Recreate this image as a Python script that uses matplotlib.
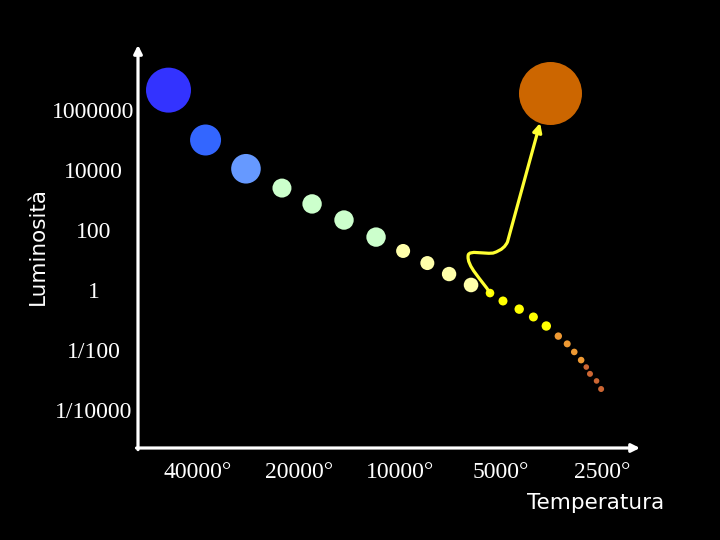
import matplotlib.pyplot as plt
from matplotlib.path import Path
from matplotlib.patches import FancyArrowPatch

# main sequence, from hot and bright (top left) to cool and faint
temps = [49000, 38000, 28800, 22500, 18300, 14700, 11800, 9800, 8300, 7150, 6150,
         5400, 4940, 4420, 4010, 3670, 3380, 3180, 3030, 2890, 2790, 2720, 2600, 2520]
lums = [4.6e6, 1e5, 1.1e4, 2500, 740, 215, 58, 20, 7.9, 3.4, 1.47,
        0.79, 0.43, 0.23, 0.126, 0.063, 0.029, 0.016, 0.0086, 0.0046, 0.0027,
        0.0016, 0.00093, 0.0005]

# red giant
giant_temp = 3590
giant_lum = 3.7e6

# path of the sun-like star leaving the main sequence (bezier vertices)
track_temps = [5400, 5700, 6360, 6270, 6200, 5700, 5290, 4960, 4860, 4790, 3830]
track_lums = [0.79, 2.15, 6.3, 14.7, 21.5, 15.8, 17, 21.5, 29, 40, 3.7e5]
track_codes = [Path.MOVETO] + [Path.CURVE4] * 9 + [Path.LINETO]

temp_ticks = [40000, 20000, 10000, 5000, 2500]
temp_labels = ['40000°', '20000°', '10000°', '5000°', '2500°']
lum_ticks = [1e6, 1e4, 1e2, 1, 1e-2, 1e-4]
lum_labels = ['1000000', '10000', '100', '1', '1/100', '1/10000']

# marker radius in pixels and colour for each star
radii = [22.5, 15.5, 14.8, 9.5, 9.7, 9.7, 9.7, 7, 7, 7.2, 7.3,
         4.3, 4.5, 4.7, 4.5, 4.7, 3.7, 3.5, 3.3, 3.3, 2.8, 3, 2.8, 3]
colors = (['#3333ff', '#3366ff', '#6699ff'] + ['#ccffcc'] * 4 + ['#ffffaa'] * 4
          + ['#ffff00'] * 5 + ['#ee9933'] * 4 + ['#cc6633'] * 4)
giant_radius = 31.5


def px_size(r):
    # scatter size (points^2) for a radius given in pixels at dpi 100
    return (2 * r * 0.72) ** 2


fig = plt.figure(figsize=(7.2, 5.4), dpi=100, facecolor='black')
ax = fig.add_axes([138 / 720, 92 / 540, 502 / 720, 403 / 540])
ax.set_facecolor('black')
ax.set_xscale('log')
ax.set_yscale('log')
ax.set_xlim(60400, 1930)
ax.set_ylim(5.4e-6, 1.47e8)
for s in ax.spines.values():
    s.set_visible(False)

ax.set_xticks(temp_ticks, temp_labels)
ax.set_yticks(lum_ticks, lum_labels)
ax.minorticks_off()
ax.tick_params(length=0, colors='white', labelsize=17)
ax.tick_params(axis='x', pad=10)
ax.tick_params(axis='y', pad=32)
for lbl in ax.get_xticklabels() + ax.get_yticklabels():
    lbl.set_fontfamily('Liberation Serif')
for lbl in ax.get_yticklabels():
    lbl.set_ha('center')

# axes drawn as arrows
arrow = dict(arrowstyle='-|>', color='white', lw=2.3, mutation_scale=12,
             shrinkA=0, shrinkB=0)
ax.annotate('', xy=(0, 1), xytext=(0, -0.004), xycoords='axes fraction', arrowprops=arrow)
ax.annotate('', xy=(1, 0), xytext=(-0.003, 0), xycoords='axes fraction', arrowprops=arrow)

ax.scatter(temps, lums, s=[px_size(r) for r in radii], c=colors, linewidths=0, zorder=3)
ax.scatter([giant_temp], [giant_lum], s=px_size(giant_radius), c='#cc6600',
           linewidths=0, zorder=3)

track_path = Path(list(zip(track_temps, track_lums)), track_codes)
track = FancyArrowPatch(path=track_path, arrowstyle='-|>', mutation_scale=13,
                        color='#ffff33', lw=2.3, joinstyle='round',
                        capstyle='round', zorder=4)
ax.add_patch(track)

fig.text(596 / 720, 1 - 503 / 540, 'Temperatura', ha='center', va='center',
         color='white', fontsize=15.5)
fig.text(38 / 720, 1 - 246 / 540, 'Luminosità', ha='center', va='center',
         rotation=90, color='white', fontsize=15.5)

fig.savefig('out.png', facecolor='black')
